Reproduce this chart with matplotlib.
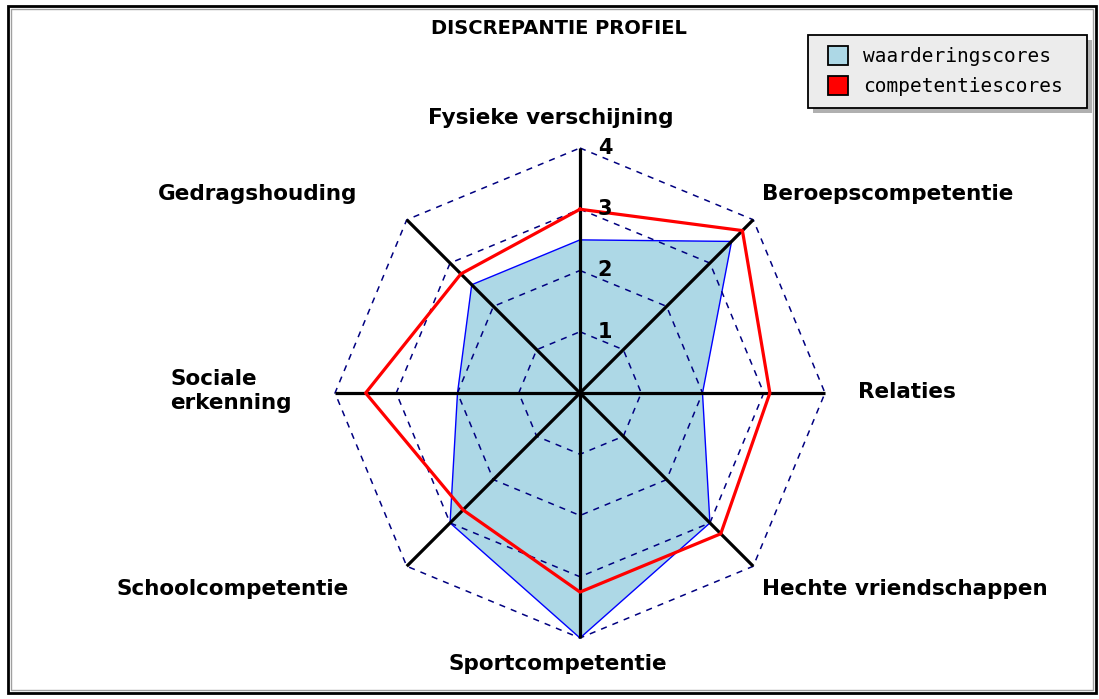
import numpy as np
import matplotlib
matplotlib.use("Agg")
import matplotlib.pyplot as plt
from matplotlib.patches import Rectangle


# Data
categories = [
    "Fysieke verschijning",
    "Beroepscompetentie",
    "Relaties",
    "Hechte vriendschappen",
    "Sportcompetentie",
    "Schoolcompetentie",
    "Sociale\nerkenning",
    "Gedragshouding",
]
waarderingscores = [2.5, 3.5, 2.0, 3.0, 4.0, 3.0, 2.0, 2.5]
competentiescores = [3.0, 3.75, 3.1, 3.25, 3.25, 2.7, 3.5, 2.75]
ticks = [1, 2, 3, 4]
series_names = ["waarderingscores", "competentiescores"]
series_colors = ["#add8e6", "#ff0000"]

# Layout (pixels)
W, H = 1099, 699
CX, CY = 580, 393
U = 61.25  # pixels per score unit

# label anchor: (x, y, ha)
label_pos = [
    (551, 118, "center"),
    (762, 194, "left"),
    (858, 392, "left"),
    (762, 589, "left"),
    (558, 664, "center"),
    (349, 589, "right"),
    (170, 391, "left"),
    (357, 194, "right"),
]


def px(x, y):
    """pixel position -> data coords"""
    return (x - CX) / U, (CY - y) / U


angles = np.arange(len(categories)) * 2 * np.pi / len(categories)


def to_xy(values):
    v = np.asarray(values, dtype=float)
    x = v * np.sin(angles)
    y = v * np.cos(angles)
    return np.append(x, x[0]), np.append(y, y[0])


fig = plt.figure(figsize=(W / 100, H / 100), dpi=100)
ax = fig.add_axes([0, 0, 1, 1])
ax.set_xlim(-CX / U, (W - CX) / U)
ax.set_ylim(-(H - CY) / U, CY / U)
ax.axis("off")

# frame
x0, y0 = px(8, 693)
x1, y1 = px(1096, 6)
ax.add_patch(Rectangle((x0, y0), x1 - x0, y1 - y0, fill=False,
                       edgecolor="black", lw=2, zorder=1))
gx0, gy0 = px(11, 690)
gx1, gy1 = px(1093, 9)
ax.add_patch(Rectangle((gx0, gy0), gx1 - gx0, gy1 - gy0, fill=False,
                       edgecolor="#a0a0a0", lw=1, zorder=1))

# waarderingscores area
xs, ys = to_xy(waarderingscores)
ax.fill(xs, ys, facecolor=series_colors[0], edgecolor="#0000ff", lw=1, zorder=2)

# grid octagons
for t in ticks:
    gx, gy = to_xy([t] * len(categories))
    ax.plot(gx, gy, color="#000080", lw=1.1, ls=(0, (4, 4)), zorder=3)

# spokes
for a in angles:
    ax.plot([0, ticks[-1] * np.sin(a)], [0, ticks[-1] * np.cos(a)],
            color="black", lw=2.3, solid_capstyle="butt", zorder=4)

# competentiescores line
xs, ys = to_xy(competentiescores)
ax.plot(xs, ys, color=series_colors[1], lw=2.3, zorder=5)

# tick labels
for t in ticks:
    ax.text(0.29, t, str(t), ha="left", va="center", fontsize=15,
            fontweight="bold", family="DejaVu Sans", zorder=6)

# category labels
for name, (lx, ly, ha) in zip(categories, label_pos):
    tx, ty = px(lx, ly)
    ax.text(tx, ty, name, ha=ha, va="center", fontsize=15.5, fontweight="bold",
            family="DejaVu Sans", multialignment="left", linespacing=1.2)

# title
tx, ty = px(559, 28)
ax.text(tx, ty, "DISCREPANTIE PROFIEL", ha="center", va="center", fontsize=14,
        fontweight="bold", family="DejaVu Sans")

# legend
sx0, sy0 = px(813, 113)
sx1, sy1 = px(1092, 40)
ax.add_patch(Rectangle((sx0, sy0), sx1 - sx0, sy1 - sy0, facecolor="#b0b0b0",
                       edgecolor="none", zorder=7))
lx0, ly0 = px(808, 108)
lx1, ly1 = px(1087, 35)
ax.add_patch(Rectangle((lx0, ly0), lx1 - lx0, ly1 - ly0, facecolor="#ececec",
                       edgecolor="black", lw=1.3, zorder=8))
for i, (name, col) in enumerate(zip(series_names, series_colors)):
    top = 46 + i * 30
    bx0, by0 = px(828, top + 19)
    bx1, by1 = px(848, top)
    ax.add_patch(Rectangle((bx0, by0), bx1 - bx0, by1 - by0, facecolor=col,
                           edgecolor="black", lw=1.3, zorder=9))
    tx, ty = px(863, top + 10)
    ax.text(tx, ty, name, ha="left", va="center", fontsize=14,
            family="DejaVu Sans Mono", zorder=9)

fig.savefig("out.png", dpi=100)
